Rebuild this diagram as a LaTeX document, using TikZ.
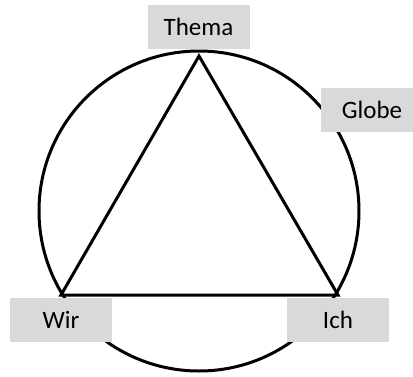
\documentclass[tikz,border=0pt]{standalone}
\usepackage{fontspec}
\setmainfont{Carlito}
\usepackage{tikz}
\definecolor{labelgray}{RGB}{217,217,217}

\begin{document}
\begin{tikzpicture}[x=0.5pt, y=-0.5pt, font=\fontsize{12.5}{15}\selectfont,
    lbl/.style={fill=labelgray, inner sep=0pt, minimum height=22pt, minimum width=51pt}]
    \useasboundingbox (0,0) rectangle (413,376);
    % Globe
    \draw[line width=1.5pt] (199,211) circle [radius=80pt];
    % Ecken
    \coordinate (T) at (199,56);
    \coordinate (W) at (61,295);
    \coordinate (I) at (338,295);
    \draw[line width=1.5pt, line join=miter] (T) -- (W) -- (I) -- cycle;
    % Beschriftungen
    \node[lbl] (thema) at (198.5,26.5) {Thema};
    \node[lbl] (globe) at (372,110) {Globe};
    \node[lbl] (wir) at (61,320) {Wir};
    \node[lbl] (ich) at (338,320) {Ich};
\end{tikzpicture}
\end{document}
